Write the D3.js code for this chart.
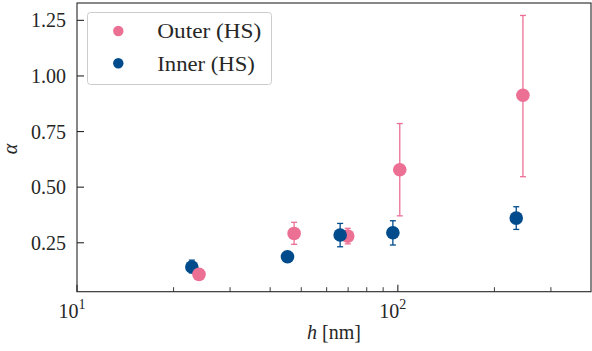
<!DOCTYPE html>
<html>
<head>
<meta charset="utf-8">
<script src="https://cdn.jsdelivr.net/npm/d3@7"></script>
<style>
html,body{margin:0;padding:0;background:#fff;}
svg{display:block;}
</style>
</head>
<body>
<div id="chart"></div>
<script>
// ---- data ----
const outerH  = [24.0, 47.5, 69.8, 101.4, 245.4];
const outerA  = [0.108, 0.292, 0.280, 0.578, 0.913];
const outerLo = [0.100, 0.243, 0.245, 0.371, 0.547];
const outerHi = [0.116, 0.342, 0.315, 0.786, 1.272];

const innerH  = [22.8, 45.3, 66.1, 96.5, 233.9];
const innerA  = [0.141, 0.187, 0.285, 0.295, 0.361];
const innerLo = [0.115, 0.177, 0.232, 0.240, 0.310];
const innerHi = [0.172, 0.197, 0.337, 0.349, 0.412];

const yTicks = [0.25, 0.50, 0.75, 1.00, 1.25];
const xMajor = [10, 100];
const xMinor = [20, 30, 40, 50, 60, 70, 80, 90, 200, 300];
const seriesNames = ["Outer (HS)", "Inner (HS)"];
const colors = ["#EC6F94", "#004B8C"];

// ---- layout ----
const W = 592, H = 351;
const L = 77, R = 591, T = 3, B = 291.7;
const FONT = "'Liberation Serif', 'DejaVu Serif', Tinos, 'Noto Serif', 'Times New Roman', FreeSerif, 'Nimbus Roman', serif";

const x = d3.scaleLog().domain([10, 400]).range([L, R]);
const y = d3.scaleLinear().domain([0.03, 1.328]).range([B, T]);

const svg = d3.select("#chart").append("svg").attr("width", W).attr("height", H)
  .attr("font-family", FONT).style("font-family", FONT);

// spines
svg.append("rect").attr("x", L).attr("y", T).attr("width", R - L).attr("height", B - T)
  .attr("fill", "none").attr("stroke", "#262626").attr("stroke-width", 1.1);

function txt(g) {
  return g.append("text").attr("font-family", FONT).attr("fill", "#262626").attr("font-size", 20);
}

// y ticks
const yg = svg.append("g");
yTicks.forEach(v => {
  yg.append("line").attr("x1", L).attr("x2", L + 7).attr("y1", y(v)).attr("y2", y(v))
    .attr("stroke", "#262626").attr("stroke-width", 1.1);
  txt(yg).attr("x", 66).attr("y", y(v)).attr("dy", "0.35em")
    .attr("text-anchor", "end").text(v.toFixed(2));
});

// x ticks
const xg = svg.append("g");
xMajor.forEach(v => {
  xg.append("line").attr("x1", x(v)).attr("x2", x(v)).attr("y1", B).attr("y2", B - 7)
    .attr("stroke", "#262626").attr("stroke-width", 1.1);
  const t = txt(xg).attr("x", x(v) - 5).attr("y", 318).attr("text-anchor", "middle");
  t.append("tspan").text("10");
  t.append("tspan").attr("dy", -9).attr("font-size", 14).text(String(Math.round(Math.log10(v))));
});
xMinor.forEach(v => {
  xg.append("line").attr("x1", x(v)).attr("x2", x(v)).attr("y1", B).attr("y2", B - 4.5)
    .attr("stroke", "#262626").attr("stroke-width", 0.9);
});

// axis labels
const xl = txt(svg).attr("x", 334).attr("y", 338.5).attr("text-anchor", "middle");
xl.append("tspan").attr("font-style", "italic").text("h");
xl.append("tspan").text(" [nm]");

txt(svg).attr("transform", "translate(17,149) rotate(-90)")
  .attr("text-anchor", "middle").attr("font-style", "italic").text("α");

// series data
const series = [
  {h: outerH, a: outerA, lo: outerLo, hi: outerHi, color: colors[0]},
  {h: innerH, a: innerA, lo: innerLo, hi: innerHi, color: colors[1]}
];

function drawPoint(g, s, i) {
  const cx = x(s.h[i]);
  g.append("line").attr("x1", cx).attr("x2", cx).attr("y1", y(s.lo[i])).attr("y2", y(s.hi[i]))
    .attr("stroke", s.color).attr("stroke-width", 1.3);
  [s.lo[i], s.hi[i]].forEach(v => {
    g.append("line").attr("x1", cx - 3).attr("x2", cx + 3).attr("y1", y(v)).attr("y2", y(v))
      .attr("stroke", s.color).attr("stroke-width", 1.3);
  });
  g.append("circle").attr("cx", cx).attr("cy", y(s.a[i])).attr("r", 6.8).attr("fill", s.color);
}

const pg = svg.append("g");
// first pair: pink drawn over blue; others: blue over pink
drawPoint(pg, series[1], 0);
drawPoint(pg, series[0], 0);
for (let i = 1; i < outerH.length; i++) drawPoint(pg, series[0], i);
for (let i = 1; i < innerH.length; i++) drawPoint(pg, series[1], i);

// legend
const lg = svg.append("g");
lg.append("rect").attr("x", 87.5).attr("y", 12.5).attr("width", 184).attr("height", 72).attr("rx", 3)
  .attr("fill", "#fff").attr("fill-opacity", 0.8).attr("stroke", "#cccccc").attr("stroke-width", 1);
const legY = [31, 63.3];
const legW = [104, 97.5];
seriesNames.forEach((n, i) => {
  lg.append("circle").attr("cx", 118.3).attr("cy", legY[i]).attr("r", 5.2).attr("fill", colors[i]);
  txt(lg).attr("x", 157.3).attr("y", legY[i]).attr("dy", "0.36em")
    .attr("textLength", legW[i]).attr("lengthAdjust", "spacingAndGlyphs")
    .text(n);
});
</script>
</body>
</html>
